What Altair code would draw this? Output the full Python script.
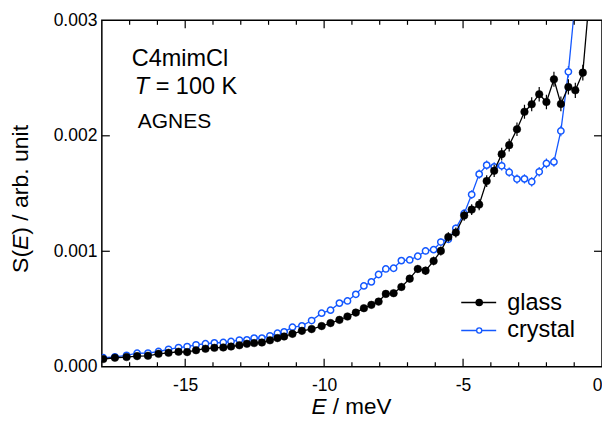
import altair as alt
import pandas as pd

# ---------------- data ----------------
energy = [-17.95, -17.53, -17.11, -16.73, -16.34, -15.96, -15.60, -15.24, -14.93, -14.61,
          -14.27, -13.95, -13.63, -13.35, -13.05, -12.78, -12.52, -12.24, -11.95, -11.68,
          -11.44, -11.14, -10.80, -10.45, -10.09, -9.77, -9.45, -9.16, -8.86, -8.57,
          -8.30, -8.04, -7.78, -7.50, -7.22, -6.92, -6.63, -6.35, -6.06, -5.80,
          -5.53, -5.26, -4.96, -4.69, -4.42, -4.15, -3.88, -3.61, -3.34, -3.06,
          -2.79, -2.53, -2.26, -2.00, -1.73, -1.48, -1.21, -0.96, -0.69, -0.42]

glass = [0.000067, 0.000078, 0.000084, 0.000092, 0.000095, 0.000112, 0.000121, 0.000130, 0.000127, 0.000143,
         0.000156, 0.000164, 0.000167, 0.000175, 0.000186, 0.000199, 0.000205, 0.000210, 0.000229, 0.000248,
         0.000262, 0.000285, 0.000311, 0.000326, 0.000352, 0.000378, 0.000406, 0.000435, 0.000469, 0.000507,
         0.000536, 0.000564, 0.000631, 0.000637, 0.000691, 0.000763, 0.000847, 0.000832, 0.000916, 0.001003,
         0.001124, 0.001162, 0.001309, 0.001361, 0.001404, 0.001608, 0.001697, 0.001841, 0.001919, 0.002057,
         0.002208, 0.002273, 0.002360, 0.002293, 0.002489, 0.002276, 0.002423, 0.002394, 0.002547, 0.003300]

crystal = [0.000078, 0.000086, 0.000099, 0.000117, 0.000118, 0.000132, 0.000151, 0.000166, 0.000175, 0.000190,
           0.000199, 0.000207, 0.000210, 0.000219, 0.000231, 0.000233, 0.000248, 0.000248, 0.000268, 0.000291,
           0.000302, 0.000343, 0.000354, 0.000400, 0.000464, 0.000490, 0.000551, 0.000570, 0.000627, 0.000700,
           0.000735, 0.000799, 0.000847, 0.000853, 0.000919, 0.000925, 0.000957, 0.001003, 0.001014, 0.001080,
           0.001104, 0.001199, 0.001328, 0.001491, 0.001668, 0.001746, 0.001731, 0.001740, 0.001685, 0.001625,
           0.001627, 0.001602, 0.001688, 0.001761, 0.001774, 0.002042, 0.002554, 0.003180]

glass_err = [0.000006, 0.000006, 0.000006, 0.000007, 0.000007, 0.000007, 0.000008, 0.000008, 0.000008, 0.000009,
             0.000009, 0.000010, 0.000010, 0.000010, 0.000011, 0.000011, 0.000012, 0.000012, 0.000013, 0.000013,
             0.000014, 0.000015, 0.000016, 0.000017, 0.000018, 0.000019, 0.000020, 0.000021, 0.000022, 0.000024,
             0.000025, 0.000026, 0.000028, 0.000029, 0.000031, 0.000032, 0.000034, 0.000035, 0.000037, 0.000039,
             0.000041, 0.000043, 0.000045, 0.000047, 0.000049, 0.000051, 0.000053, 0.000055, 0.000056, 0.000058,
             0.000060, 0.000061, 0.000063, 0.000063, 0.000065, 0.000064, 0.000066, 0.000066, 0.000068, 0.000080]

crystal_err = [0.000005, 0.000005, 0.000005, 0.000006, 0.000006, 0.000006, 0.000007, 0.000007, 0.000007, 0.000008,
               0.000008, 0.000008, 0.000009, 0.000009, 0.000010, 0.000010, 0.000010, 0.000011, 0.000011, 0.000012,
               0.000012, 0.000013, 0.000014, 0.000015, 0.000016, 0.000017, 0.000018, 0.000019, 0.000020, 0.000021,
               0.000022, 0.000023, 0.000024, 0.000025, 0.000026, 0.000027, 0.000028, 0.000029, 0.000030, 0.000031,
               0.000032, 0.000033, 0.000035, 0.000037, 0.000040, 0.000041, 0.000041, 0.000041, 0.000040, 0.000040,
               0.000040, 0.000040, 0.000041, 0.000042, 0.000042, 0.000045, 0.000050, 0.000055]

series = ["glass", "crystal"]
x_labels = [-15, -10, -5, 0]
y_labels = [0.000, 0.001, 0.002, 0.003]
x_major = [-15, -10, -5]
x_minor = [-17, -16, -14, -13, -12, -11, -9, -8, -7, -6, -4, -3, -2, -1]
y_major = [0.001, 0.002]
annotations = ["C4mimCl", "T", "= 100 K", "AGNES"]
x_title = ["E", "/ meV"]
y_title = ["S(", "E", ") / arb. unit"]

# ---------------- styling ----------------
W, H = 501, 347
FONT = "Liberation Sans"
BLUE = "#1458ff"
BLACK = "#000000"

dg = pd.DataFrame({"E": energy, "S": glass, "err": glass_err})
dc = pd.DataFrame({"E": energy[:len(crystal)], "S": crystal, "err": crystal_err})

xs = alt.Scale(domain=[-18, 0], nice=False, zero=False)
ys = alt.Scale(domain=[0, 0.003], nice=False, zero=False)
xaxis = alt.Axis(values=x_labels, labelExpr="datum.value == 0 ? '0' : '-' + abs(datum.value)",
                 domain=False, ticks=False, grid=False, title=None, labelFontSize=17.5,
                 labelFont=FONT, labelColor=BLACK, labelPadding=10)
yaxis = alt.Axis(values=y_labels, format=".3f", domain=False, ticks=False, grid=False, title=None,
                 labelFontSize=17.5, labelFont=FONT, labelColor=BLACK, labelPadding=5)


def X(f):
    return alt.X(f"{f}:Q", scale=xs, axis=xaxis)


def Y(f):
    return alt.Y(f"{f}:Q", scale=ys, axis=yaxis)


def series_layers(df, color, filled):
    base = alt.Chart(df)
    line = base.mark_line(color=color, strokeWidth=1.3, clip=True).encode(x=X("E"), y=Y("S"))
    err = base.transform_calculate(lo="datum.S - datum.err", hi="datum.S + datum.err").mark_rule(
        color=color, strokeWidth=1.2, clip=True).encode(x=X("E"), y=Y("lo"), y2=alt.Y2("hi:Q"))
    if filled:
        pts = base.mark_point(filled=True, fill=color, stroke=color, strokeWidth=0.5, size=58,
                              opacity=1, clip=True).encode(x=X("E"), y=Y("S"))
    else:
        pts = base.mark_point(filled=False, fill="white", stroke=color, strokeWidth=1.5, size=40,
                              opacity=1, fillOpacity=1, clip=True).encode(x=X("E"), y=Y("S"))
    return [line, err, pts]


layers = []
layers += series_layers(dc, BLUE, False)
layers += series_layers(dg, BLACK, True)

# inward ticks
tx_major = pd.DataFrame({"t": x_major})
tx_minor = pd.DataFrame({"t": x_minor})
ty_major = pd.DataFrame({"t": y_major})
for df, ln in [(tx_major, 8), (tx_minor, 4.5)]:
    layers.append(alt.Chart(df).mark_rule(color=BLACK, strokeWidth=1.2).encode(
        x=X("t"), y=alt.value(H), y2=alt.value(H - ln)))
    layers.append(alt.Chart(df).mark_rule(color=BLACK, strokeWidth=1.2).encode(
        x=X("t"), y=alt.value(0), y2=alt.value(ln)))
layers.append(alt.Chart(ty_major).mark_rule(color=BLACK, strokeWidth=1.2).encode(
    y=Y("t"), x=alt.value(0), x2=alt.value(8)))
layers.append(alt.Chart(ty_major).mark_rule(color=BLACK, strokeWidth=1.2).encode(
    y=Y("t"), x=alt.value(W), x2=alt.value(W - 8)))


def text(s, x, y, size, italic=False, angle=0, baseline="alphabetic"):
    kw = dict(font=FONT, fontSize=size, color=BLACK, align="left", baseline=baseline)
    if italic:
        kw["fontStyle"] = "italic"
    if angle:
        kw["angle"] = angle
    return alt.Chart(pd.DataFrame({"t": [s]})).mark_text(**kw).encode(
        x=alt.value(x), y=alt.value(y), text="t:N")


# annotation
layers.append(text(annotations[0], 30, 45.7, 23.5))
layers.append(text(annotations[1], 33, 74, 23.5, italic=True))
layers.append(text(annotations[2], 53.9, 74, 23.5))
layers.append(text(annotations[3], 36, 108, 21))

# axis titles
layers.append(text(x_title[0], 210, 394, 22.5, italic=True))
layers.append(text(x_title[1], 231.3, 394, 22.5))
layers.append(text(y_title[0], -73.5, 253, 23, angle=270))
layers.append(text(y_title[1], -73.5, 230, 23, italic=True, angle=270))
layers.append(text(y_title[2], -73.5, 214.7, 23, angle=270))

# legend
one = pd.DataFrame({"t": [0]})
for name, color, yy, filled in [(series[0], BLACK, 282.7, True), (series[1], BLUE, 310.7, False)]:
    layers.append(alt.Chart(one).mark_rule(color=color, strokeWidth=1.6).encode(
        x=alt.value(360), x2=alt.value(395), y=alt.value(yy)))
    if filled:
        layers.append(alt.Chart(one).mark_point(filled=True, fill=color, stroke=color, size=32,
                                                opacity=1).encode(x=alt.value(378), y=alt.value(yy)))
    else:
        layers.append(alt.Chart(one).mark_point(filled=False, fill="white", fillOpacity=1, stroke=color,
                                                strokeWidth=1.3, size=26, opacity=1).encode(
            x=alt.value(378), y=alt.value(yy)))
    layers.append(text(name, 406, yy, 23.5, baseline="middle"))

chart = alt.layer(*layers).properties(
    width=W, height=H,
    autosize=alt.AutoSizeParams(type="none"),
    padding={"left": 94, "top": 12, "right": 0, "bottom": 54},
).configure_view(stroke=BLACK, strokeWidth=1.5)

chart.save("out.html", embed_options={"renderer": "svg", "actions": False})
